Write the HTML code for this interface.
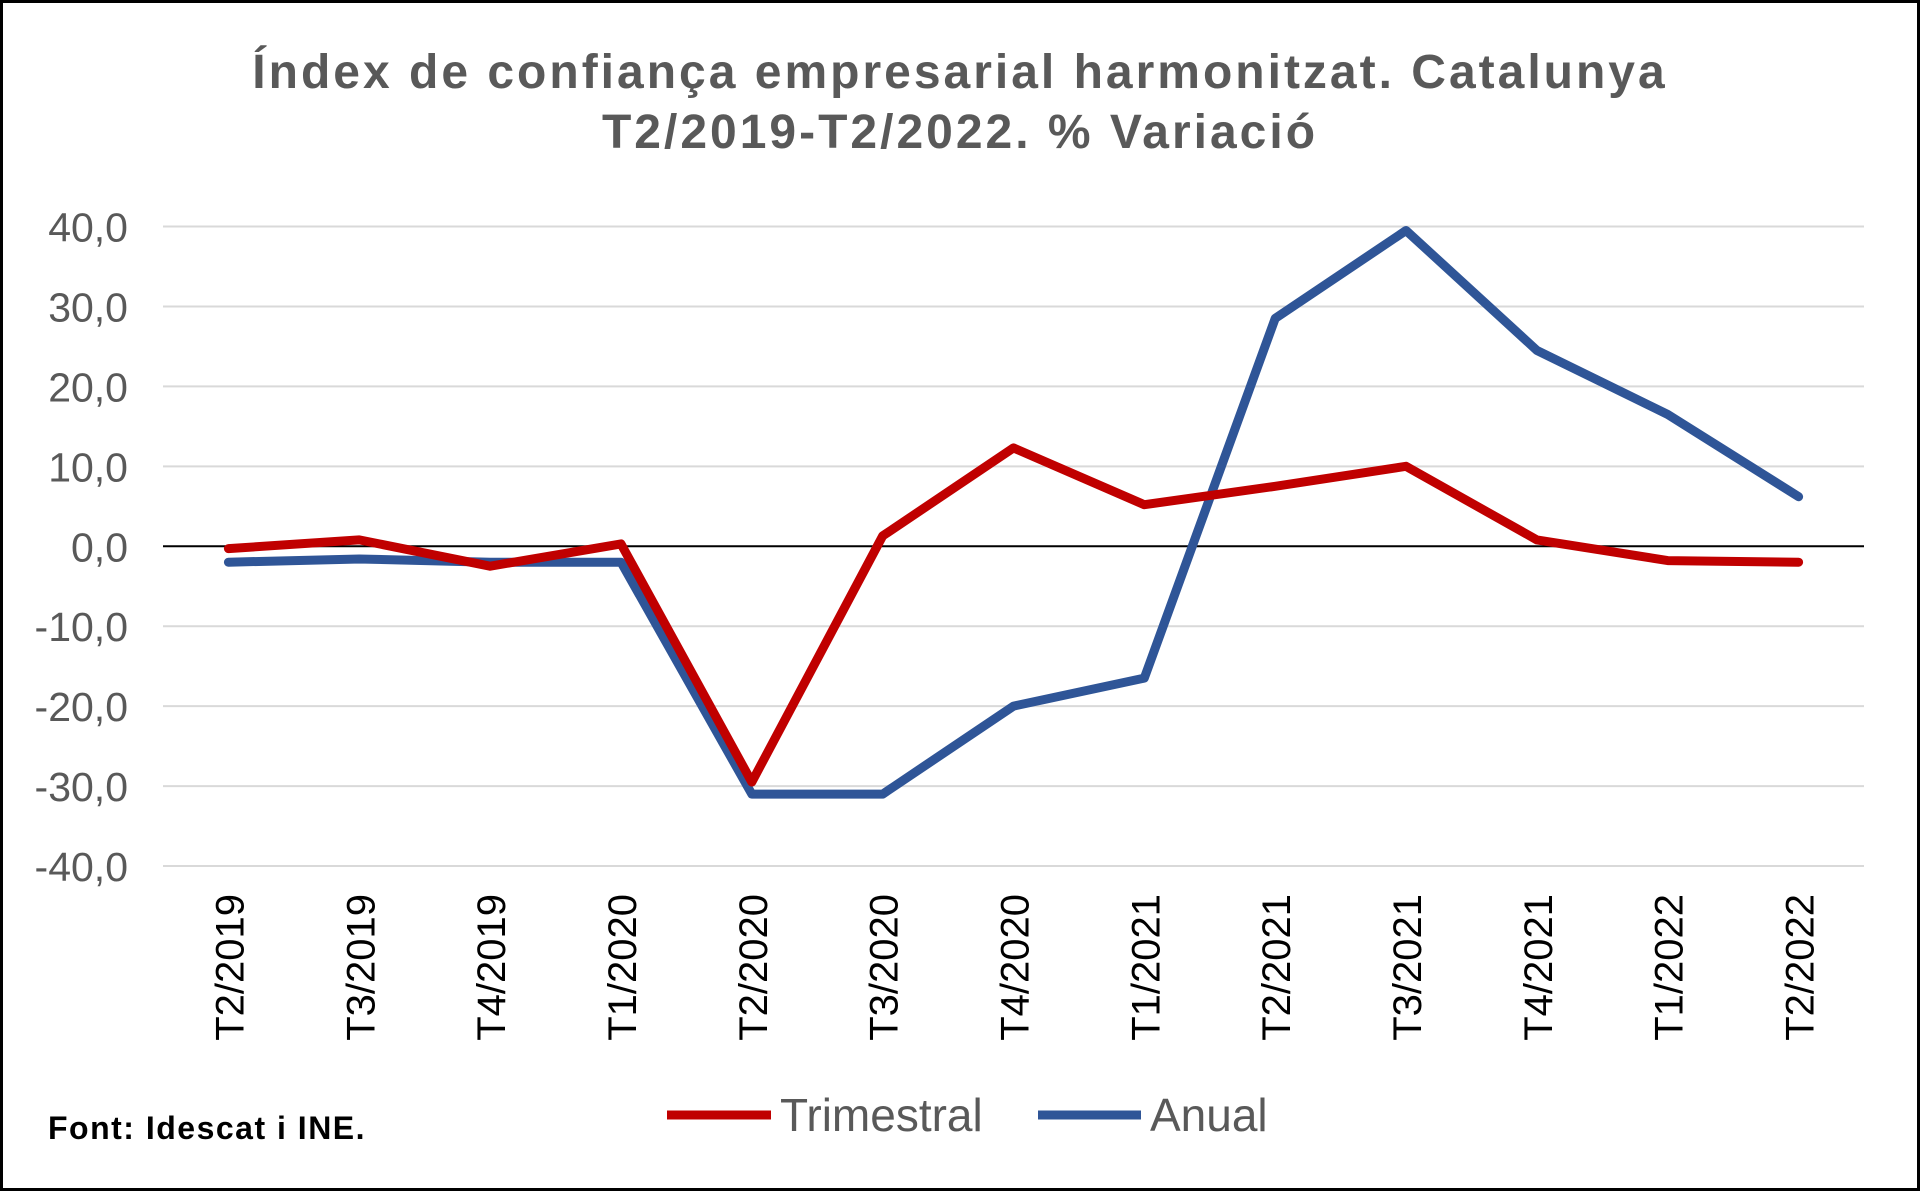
<!DOCTYPE html>
<html><head><meta charset="utf-8"><style>
html,body{margin:0;padding:0;background:#fff}
svg{display:block}
</style></head><body>
<svg id="chart" width="1920" height="1191" viewBox="0 0 1920 1191" xmlns="http://www.w3.org/2000/svg" font-family="Liberation Sans, sans-serif">
<rect x="1.5" y="1.5" width="1917" height="1188" fill="#fff" stroke="#000" stroke-width="3"/>
<text x="960" y="88" text-anchor="middle" font-size="48" font-weight="bold" fill="#595959" letter-spacing="3">Índex de confiança empresarial harmonitzat. Catalunya</text>
<text x="960" y="148" text-anchor="middle" font-size="48" font-weight="bold" fill="#595959" letter-spacing="3">T2/2019-T2/2022. %  Variació</text>
<g id="grid"></g>
<g id="yticks"></g>
<g id="xticks"></g>
<g id="series"></g>
<g>
<line x1="667" y1="1115" x2="771" y2="1115" stroke="#C00000" stroke-width="9"/>
<text x="780" y="1131" font-size="46" fill="#595959">Trimestral</text>
<line x1="1038" y1="1115" x2="1141" y2="1115" stroke="#2F5597" stroke-width="9"/>
<text x="1150" y="1131" font-size="46" fill="#595959">Anual</text>
</g>
<text x="48" y="1139" font-size="32" font-weight="bold" fill="#000" letter-spacing="1.5">Font: Idescat i INE.</text>
</svg>
<script>
const categories = ["T2/2019","T3/2019","T4/2019","T1/2020","T2/2020","T3/2020","T4/2020","T1/2021","T2/2021","T3/2021","T4/2021","T1/2022","T2/2022"];
const trimestral = [-0.3, 0.8, -2.5, 0.3, -29.5, 1.3, 12.3, 5.2, 7.5, 10.0, 0.8, -1.8, -2.0];
const anual = [-2.0, -1.6, -2.0, -2.0, -31.0, -31.0, -20.0, -16.5, 28.5, 39.5, 24.5, 16.5, 6.2];
const yTicks = [40, 30, 20, 10, 0, -10, -20, -30, -40];
const yTickLabels = ["40,0","30,0","20,0","10,0","0,0","-10,0","-20,0","-30,0","-40,0"];

const NS = "http://www.w3.org/2000/svg";
const plotL = 163, plotR = 1864, yTop = 226.5, yBot = 866;
const yMin = -40, yMax = 40;
function yScale(v){ return yBot - (v - yMin) / (yMax - yMin) * (yBot - yTop); }
const band = (plotR - plotL) / categories.length;
function xScale(i){ return plotL + band * (i + 0.5); }
function mk(tag, attrs){ const e = document.createElementNS(NS, tag); for (const k in attrs) e.setAttribute(k, attrs[k]); return e; }

const grid = document.getElementById('grid');
const yt = document.getElementById('yticks');
yTicks.forEach((v, i) => {
  const y = yScale(v);
  const l = mk('line', {x1: plotL, x2: plotR, y1: y, y2: y, stroke: v === 0 ? '#000' : '#d9d9d9', 'stroke-width': 2});
  
  
  grid.appendChild(l);
  const t = mk('text', {x: 128, y: y + 15, 'text-anchor': 'end', 'font-size': 41, fill: '#595959'});
  t.textContent = yTickLabels[i];
  
  
  yt.appendChild(t);
});

const xt = document.getElementById('xticks');
categories.forEach((c, i) => {
  const x = xScale(i);
  const t = mk('text', {x: 0, y: 0, 'text-anchor': 'end', 'font-size': 40, fill: '#000', transform: `translate(${x + 15},894) rotate(-90)`});
  t.textContent = c;
  
  
  xt.appendChild(t);
});

const sg = document.getElementById('series');
function drawSeries(vals, color, name){
  const pts = vals.map((v, i) => xScale(i).toFixed(1) + ',' + yScale(v).toFixed(1)).join(' ');
  const p = mk('polyline', {points: pts, fill: 'none', stroke: color, 'stroke-width': 9, 'stroke-linejoin': 'round', 'stroke-linecap': 'round'});
  
  
  sg.appendChild(p);
}
drawSeries(anual, '#2F5597', 'anual-line');
drawSeries(trimestral, '#C00000', 'trimestral-line');
</script>
</body></html>
